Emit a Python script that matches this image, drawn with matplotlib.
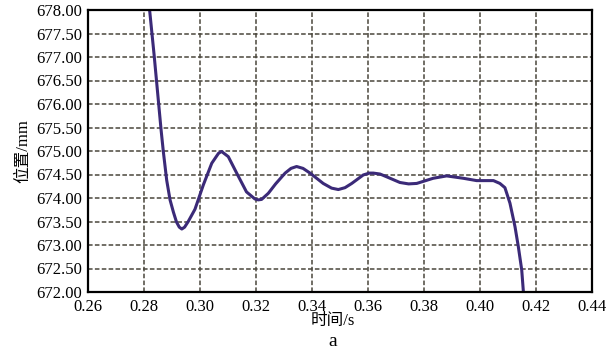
import numpy as np
import matplotlib.pyplot as plt

# 读取的曲线点 (时间/s, 位置/mm)
t = [0.2820, 0.2836, 0.2851, 0.2861, 0.2869, 0.2881, 0.2893, 0.2905, 0.2916,
     0.2926, 0.2935, 0.2945, 0.2958, 0.2982, 0.3012, 0.3042, 0.3066, 0.3077,
     0.3101, 0.3131, 0.3166, 0.3196, 0.3208, 0.3220, 0.3244, 0.3270, 0.3304,
     0.3325, 0.3345, 0.3368, 0.3393, 0.3440, 0.3470, 0.3494, 0.3518, 0.3542,
     0.3583, 0.3605, 0.3619, 0.3643, 0.3667, 0.3714, 0.3745, 0.3774, 0.3833,
     0.3881, 0.3940, 0.3988, 0.4048, 0.4071, 0.4089, 0.4107, 0.4125, 0.4137,
     0.4149, 0.4155]
pos = [678.00, 677.05, 676.09, 675.45, 674.99, 674.38, 673.96, 673.70, 673.49,
       673.38, 673.34, 673.38, 673.50, 673.76, 674.28, 674.74, 674.95, 674.99,
       674.88, 674.53, 674.13, 673.98, 673.96, 673.97, 674.10, 674.30, 674.53,
       674.63, 674.67, 674.63, 674.53, 674.31, 674.21, 674.18, 674.22, 674.31,
       674.49, 674.53, 674.53, 674.51, 674.45, 674.33, 674.30, 674.31, 674.42,
       674.47, 674.42, 674.37, 674.37, 674.31, 674.22, 673.89, 673.39, 672.96,
       672.47, 672.00]
xticks = [0.26, 0.28, 0.30, 0.32, 0.34, 0.36, 0.38, 0.40, 0.42, 0.44]
yticks = [672.0, 672.5, 673.0, 673.5, 674.0, 674.5, 675.0, 675.5, 676.0, 676.5, 677.0, 677.5, 678.0]

fam = ['Liberation Serif', 'Noto Sans CJK SC']
plt.rcParams['font.family'] = fam

fig = plt.figure(figsize=(6.1, 3.54), dpi=100)
ax = fig.add_axes([88/610, 1-292/354, (592-88)/610, (292-10)/354])
ax.plot(t, pos, color='#3b2a78', lw=2.2, solid_joinstyle='round')
ax.set_xlim(0.26, 0.44)
ax.set_ylim(672, 678)
ax.set_xticks(xticks)
ax.set_xticklabels(['%.2f' % v for v in xticks])
ax.set_yticks(yticks)
ax.set_yticklabels(['%.2f' % v for v in yticks])
ax.tick_params(axis='y', length=0, labelsize=12, pad=4)
ax.tick_params(axis='x', length=0, labelsize=12, pad=5)
ax.grid(True, color='#4a463c', linestyle=(0, (3, 1.5)), lw=1.1)
for s in ax.spines.values():
    s.set_linewidth(1.6)
ax.set_ylabel('位置/mm', fontsize=12, labelpad=4)
fig.text(333/610, 1-321/354, '时间/s', ha='center', va='center', fontsize=12)
fig.text(333/610, 1-341/354, 'a', ha='center', va='center', fontsize=14)
fig.savefig('out.png', dpi=100)
